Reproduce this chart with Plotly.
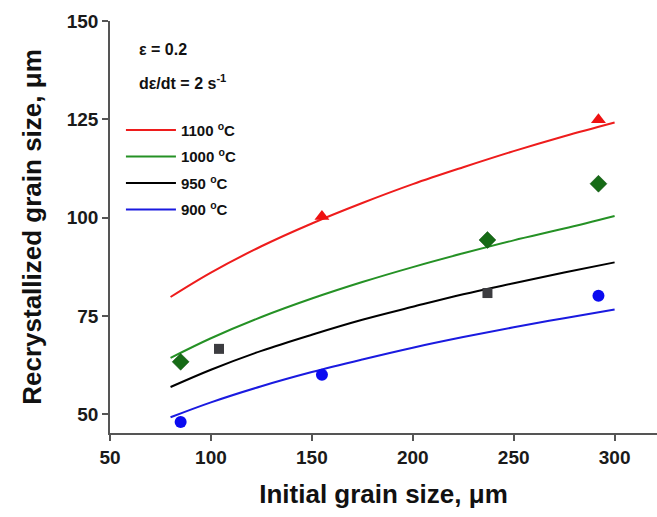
import plotly.graph_objects as go

# Fitted curves
curve_x = [80, 100, 125, 150, 175, 200, 225, 250, 275, 300]
fit_1100 = [79.8, 86.0, 92.7, 98.5, 103.7, 108.5, 112.8, 116.9, 120.7, 124.2]
fit_1000 = [64.3, 69.3, 74.7, 79.4, 83.6, 87.4, 90.9, 94.2, 97.2, 100.4]
fit_950 = [56.9, 61.3, 66.1, 70.2, 74.0, 77.3, 80.5, 83.3, 86.0, 88.6]
fit_900 = [49.2, 53.0, 57.1, 60.7, 63.9, 66.9, 69.6, 72.1, 74.4, 76.6]

# Measured points
pts_1100_x = [155, 292]
pts_1100_y = [100.3, 124.9]
pts_1000_x = [85, 237, 292]
pts_1000_y = [63.3, 94.3, 108.6]
pts_950_x = [104, 237]
pts_950_y = [66.6, 80.8]
pts_900_x = [85, 155, 292]
pts_900_y = [48.0, 60.0, 80.1]

labels = ["1100 <sup>o</sup>C", "1000 <sup>o</sup>C", "950 <sup>o</sup>C", "900 <sup>o</sup>C"]
line_colors = ["#ee1c1c", "#259125", "#000000", "#1a1ae0"]

FONT = "Liberation Sans, Arial, sans-serif"

fig = go.Figure()
for name, ys, col in zip(labels, [fit_1100, fit_1000, fit_950, fit_900], line_colors):
    fig.add_trace(go.Scatter(x=curve_x, y=ys, mode="lines", name="<b>" + name + "</b>",
                             legendgroup=name,
                             line=dict(color=col, width=2, shape="spline")))

fig.add_trace(go.Scatter(x=pts_1100_x, y=pts_1100_y, mode="markers", showlegend=False,
                         marker=dict(symbol="triangle-up", size=13, color="#ee1111")))
fig.add_trace(go.Scatter(x=pts_1000_x, y=pts_1000_y, mode="markers", showlegend=False,
                         marker=dict(symbol="diamond", size=13, color="#166b16",
                                     line=dict(color="#0e4d0e", width=0.5))))
fig.add_trace(go.Scatter(x=pts_950_x, y=pts_950_y, mode="markers", showlegend=False,
                         marker=dict(symbol="square", size=10, color="#3c3c40")))
fig.add_trace(go.Scatter(x=pts_900_x, y=pts_900_y, mode="markers", showlegend=False,
                         marker=dict(symbol="circle", size=12, color="#0b0bf0")))

axis_font = dict(family=FONT, size=19, color="#1a1a1a")
title_font = dict(family=FONT, size=26, color="#111111")

fig.update_layout(
    width=657, height=517,
    margin=dict(l=110, r=0, t=21, b=84),
    paper_bgcolor="white", plot_bgcolor="white",
    font=dict(family=FONT, color="#111111"),
    xaxis=dict(range=[50, 321], tickvals=[50, 100, 150, 200, 250, 300],
               ticktext=["<b>50</b>", "<b>100</b>", "<b>150</b>", "<b>200</b>", "<b>250</b>", "<b>300</b>"],
               showgrid=False, zeroline=False, showline=True, linecolor="#555555", linewidth=1.5,
               ticks="outside", ticklen=6, tickcolor="#555555", tickwidth=1.5,
               tickfont=axis_font,
               title=dict(text="<b>Initial grain size, μm</b>", font=title_font, standoff=18)),
    yaxis=dict(range=[45.2, 150], tickvals=[50, 75, 100, 125, 150],
               ticktext=["<b>50</b>", "<b>75</b>", "<b>100</b>", "<b>125</b>", "<b>150</b>"],
               showgrid=False, zeroline=False, showline=True, linecolor="#555555", linewidth=1.5,
               ticks="outside", ticklen=6, tickcolor="#555555", tickwidth=1.5,
               tickfont=axis_font,
               title=dict(text="<b>Recrystallized grain size, μm</b>", font=title_font, standoff=18)),
    legend=dict(x=0.02, y=0.775, xanchor="left", yanchor="top",
                bgcolor="rgba(0,0,0,0)", tracegroupgap=4, itemwidth=50,
                font=dict(family=FONT, size=15, color="#111111")),
    annotations=[
        dict(text="<b>ε = 0.2</b>", xref="paper", yref="paper", x=0.05, y=0.93,
             xanchor="left", yanchor="middle", showarrow=False,
             font=dict(family=FONT, size=16, color="#111111")),
        dict(text="<b>dε/dt = 2 s<sup>-1</sup></b>", xref="paper", yref="paper", x=0.05, y=0.853,
             xanchor="left", yanchor="middle", showarrow=False,
             font=dict(family=FONT, size=16, color="#111111")),
    ],
)

fig.write_html("out.html")
